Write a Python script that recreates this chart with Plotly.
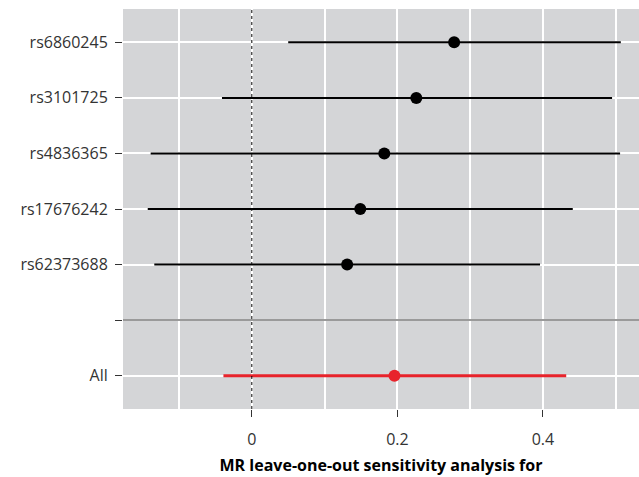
import plotly.graph_objects as go

snps = ["rs6860245", "rs3101725", "rs4836365", "rs17676242", "rs62373688"]
snp_b = [0.278, 0.226, 0.182, 0.149, 0.131]
snp_lo = [0.050, -0.041, -0.139, -0.143, -0.134]
snp_hi = [0.507, 0.495, 0.506, 0.441, 0.396]

all_label = "All"
all_b = [0.196]
all_lo = [-0.039]
all_hi = [0.432]

x_tick_vals = [0, 0.2, 0.4]
x_tick_text = ["0", "0.2", "0.4"]
x_title = "MR leave-one-out sensitivity analysis for"

# y positions: All=1, blank separator=2, SNPs 3..7 (bottom to top)
n = len(snps)
snp_y = [n + 2 - i for i in range(n)]
all_y = [1]
sep_y = 2

FONT = "Open Sans"

fig = go.Figure()
fig.add_trace(go.Scatter(
    x=snp_b, y=snp_y, mode="markers",
    marker=dict(color="black", size=12),
    error_x=dict(type="data", symmetric=False,
                 array=[h - b for h, b in zip(snp_hi, snp_b)],
                 arrayminus=[b - l for b, l in zip(snp_b, snp_lo)],
                 color="black", thickness=2, width=0),
    showlegend=False, hoverinfo="skip"))
fig.add_trace(go.Scatter(
    x=all_b, y=all_y, mode="markers",
    marker=dict(color="#e8232b", size=12),
    error_x=dict(type="data", symmetric=False,
                 array=[h - b for h, b in zip(all_hi, all_b)],
                 arrayminus=[b - l for b, l in zip(all_b, all_lo)],
                 color="#e8232b", thickness=3, width=0),
    showlegend=False, hoverinfo="skip"))

fig.add_shape(type="line", xref="paper", x0=0, x1=1, yref="y", y0=sep_y, y1=sep_y,
              line=dict(color="#9a9a9a", width=2), layer="above")
fig.add_shape(type="line", xref="x", x0=0, x1=0, yref="paper", y0=0, y1=1,
              line=dict(color="black", width=1, dash="dot"), layer="above")

fig.update_layout(
    width=639, height=477,
    margin=dict(l=123, r=0, t=9, b=68),
    paper_bgcolor="white", plot_bgcolor="#d4d5d7",
    font=dict(family=FONT, size=16, color="#333333"),
)
fig.update_xaxes(
    range=[-0.177, 0.532], tickvals=x_tick_vals, ticktext=x_tick_text,
    ticks="outside", ticklen=7, tickcolor="#333333", tickwidth=1,
    ticklabelstandoff=9,
    showgrid=False, zeroline=False,
    title=dict(text="<b>" + x_title + "</b>", font=dict(size=16, color="black"), standoff=10),
    tickfont=dict(size=16, color="#333333"),
    minor=dict(dtick=0.1, tick0=0, showgrid=True, gridcolor="white", gridwidth=1.5, ticks=""),
)
fig.update_yaxes(
    range=[0.4, n + 2.6],
    tickvals=snp_y + [sep_y] + all_y,
    ticktext=snps + [""] + [all_label],
    ticks="outside", ticklen=7, tickcolor="#333333", tickwidth=1,
    ticklabelstandoff=4,
    showgrid=True, gridcolor="white", gridwidth=1.5, zeroline=False,
    tickfont=dict(size=16, color="#333333"),
)

fig.write_html(
    "out.html",
    config={"displayModeBar": False},
    post_script="document.body.style.margin='0';document.body.style.overflow='hidden';",
)
